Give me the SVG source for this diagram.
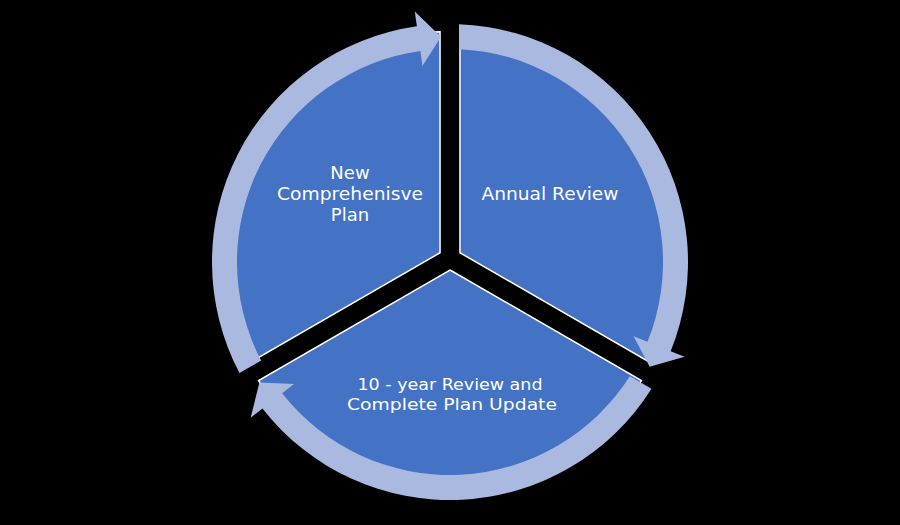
<svg xmlns="http://www.w3.org/2000/svg" xmlns:xlink="http://www.w3.org/1999/xlink" width="900" height="525" viewBox="0 0 900 525">
  <style>
    .seg { fill: #4472C4; stroke: #FFFFFF; stroke-width: 1.5; stroke-linejoin: miter; }
    .arrow { fill: #AAB9DF; stroke: none; }
    .lbl { fill: #FFFFFF; font-family: "DejaVu Sans", "Liberation Sans", sans-serif; font-size: 18px; text-anchor: middle; }
    .sm { font-size: 16px; }
  </style>
  <defs>
    <path id="ringArrow" d="M 459 24.17 A 238 238 0 0 1 670.67 351.15 L 684.58 356.78 L 649.66 366.81 L 633.59 336.17 L 647.49 341.79 A 213 213 0 0 0 459 49.19 Z"/>
  </defs>
  <rect x="0" y="0" width="900" height="525" fill="#000000"/>

  <g id="node-new-plan">
    <path class="seg" d="M 440.04 252.75 L 248.65 363.25 A 221 221 0 0 1 440.04 31.75 Z"/>
  </g>
  <g id="node-annual-review">
    <path class="seg" d="M 459.96 252.75 L 459.96 31.75 A 221 221 0 0 1 651.35 363.25 Z"/>
  </g>
  <g id="node-ten-year">
    <path class="seg" d="M 450 270 L 641.39 380.5 A 221 221 0 0 1 258.61 380.5 Z"/>
  </g>

  <g id="connectors">
    <use xlink:href="#ringArrow" class="arrow"/>
    <use xlink:href="#ringArrow" class="arrow" transform="rotate(120 450 262)"/>
    <use xlink:href="#ringArrow" class="arrow" transform="rotate(240 450 262)"/>
  </g>

  <g id="labels">
    <text class="lbl" x="350" y="179">New</text>
    <text class="lbl" x="350" y="200" textLength="146" lengthAdjust="spacingAndGlyphs">Comprehenisve</text>
    <text class="lbl" x="350" y="221">Plan</text>
    <text class="lbl" x="550" y="200" textLength="137" lengthAdjust="spacingAndGlyphs">Annual Review</text>
    <text class="lbl sm" x="450" y="390" textLength="185" lengthAdjust="spacingAndGlyphs">10 - year Review and</text>
    <text class="lbl sm" x="452" y="410" textLength="210" lengthAdjust="spacingAndGlyphs">Complete Plan Update</text>
  </g>
</svg>
